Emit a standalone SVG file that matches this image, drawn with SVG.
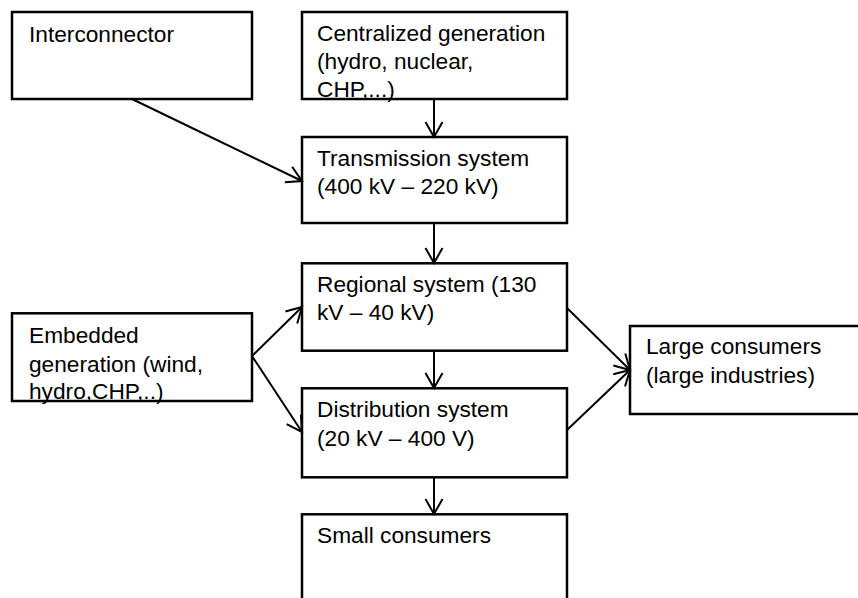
<svg xmlns="http://www.w3.org/2000/svg" width="858" height="598" viewBox="0 0 858 598">
  <style>
    .box { fill: #ffffff; stroke: #000000; stroke-width: 2.5; }
    .lbl { font-family: "Liberation Sans", Arial, sans-serif; font-size: 22.7px; fill: #000000; }
    .wire { fill: none; stroke: #000000; stroke-width: 2; marker-end: url(#vhead); }
  </style>
  <defs>
    <!-- open V arrowhead -->
    <marker id="vhead" markerUnits="userSpaceOnUse" markerWidth="20" markerHeight="20" viewBox="-17 -10 19 20" refX="0" refY="0" orient="auto" overflow="visible">
      <path d="M-15,-8.5 L0,0 L-15,8.5" fill="none" stroke="#000000" stroke-width="2"/>
    </marker>
  </defs>

  <rect width="858" height="598" fill="#ffffff"/>

  <g id="interconnector">
    <rect class="box" x="12" y="12" width="240" height="87"/>
    <text class="lbl" x="29" y="42">Interconnector</text>
  </g>

  <g id="centralized-generation">
    <rect class="box" x="302" y="12" width="265" height="87"/>
    <text class="lbl" x="317" y="40.7">Centralized generation</text>
    <text class="lbl" x="317" y="68.7">(hydro, nuclear,</text>
    <text class="lbl" x="317" y="96.7">CHP,...)</text>
  </g>

  <g id="transmission-system">
    <rect class="box" x="302" y="137" width="265" height="86"/>
    <text class="lbl" x="317" y="165.7">Transmission system</text>
    <text class="lbl" x="317" y="193.7">(400 kV – 220 kV)</text>
  </g>

  <g id="regional-system">
    <rect class="box" x="302" y="263.3" width="265" height="87.4"/>
    <text class="lbl" x="317" y="291.7">Regional system (130</text>
    <text class="lbl" x="317" y="320">kV – 40 kV)</text>
  </g>

  <g id="distribution-system">
    <rect class="box" x="302" y="388.3" width="265" height="89"/>
    <text class="lbl" x="317" y="417">Distribution system</text>
    <text class="lbl" x="317" y="445.5">(20 kV – 400 V)</text>
  </g>

  <g id="small-consumers">
    <rect class="box" x="302" y="514.3" width="265" height="100"/>
    <text class="lbl" x="317" y="543.3">Small consumers</text>
  </g>

  <g id="embedded-generation">
    <rect class="box" x="12" y="313.3" width="240" height="87.7"/>
    <text class="lbl" x="29" y="343.3">Embedded</text>
    <text class="lbl" x="29" y="371.6">generation (wind,</text>
    <text class="lbl" x="29" y="399.3">hydro,CHP,..)</text>
  </g>

  <g id="large-consumers">
    <rect class="box" x="630" y="326" width="240" height="88"/>
    <text class="lbl" x="646" y="354.3">Large consumers</text>
    <text class="lbl" x="646" y="383">(large industries)</text>
  </g>

  <g id="connectors">
    <line class="wire" x1="132" y1="99" x2="302" y2="181"/>
    <line class="wire" x1="434" y1="99" x2="434" y2="137"/>
    <line class="wire" x1="434" y1="223" x2="434" y2="263"/>
    <line class="wire" x1="434" y1="350.7" x2="434" y2="388"/>
    <line class="wire" x1="434" y1="477.3" x2="434" y2="514"/>
    <line class="wire" x1="252" y1="356" x2="302" y2="307"/>
    <line class="wire" x1="252" y1="356" x2="302" y2="432"/>
    <line class="wire" x1="567" y1="308" x2="630" y2="370"/>
    <line class="wire" x1="567" y1="430" x2="630" y2="370"/>
  </g>
</svg>
